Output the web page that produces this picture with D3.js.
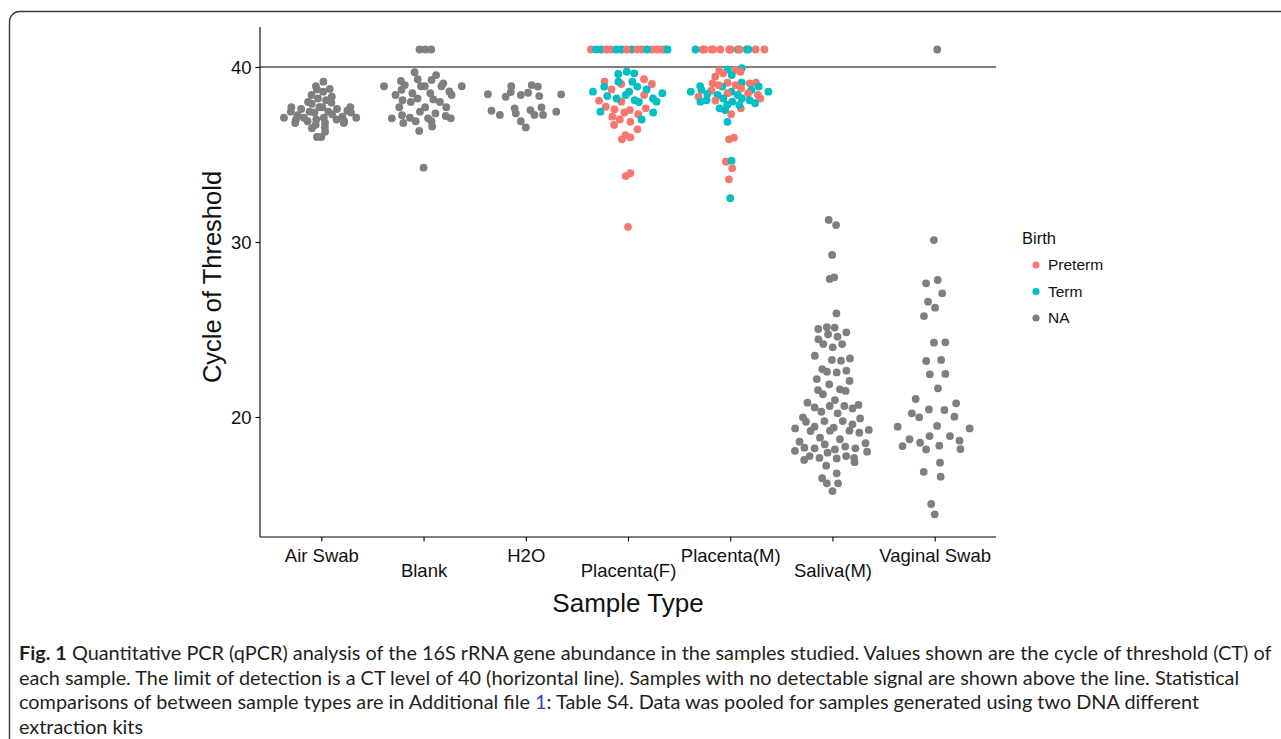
<!DOCTYPE html>
<html>
<head>
<meta charset="utf-8">
<script src="https://cdn.jsdelivr.net/npm/d3@7"></script>
<style>
  body { margin: 0; background: #fff; }
  svg { display: block; }
</style>
</head>
<body>
<div id="mainDiv"></div>
<script>
'use strict';

// categorias e legenda
var sampleTypes = ['Air Swab', 'Blank', 'H2O', 'Placenta(F)', 'Placenta(M)', 'Saliva(M)', 'Vaginal Swab'];
var birthKeys = ['Preterm', 'Term', 'NA'];
var birthColors = ['#F8766D', '#00BFC4', '#7F7F7F'];
var yTicks = [20, 30, 40];
var detectLimit = 40;   // linha horizontal
var noSignal = 41;      // valor usado para amostras sem sinal

// valores de CT (NA = sem informação de nascimento)
var airSwab = [39.16, 38.91, 38.75, 38.72, 38.59, 38.4, 38.3, 38.2, 38.1, 38.0, 37.96, 37.9, 37.7, 37.7, 37.7,
  37.7, 37.6, 37.6, 37.5, 37.45, 37.45, 37.45, 37.4, 37.4, 37.3, 37.25, 37.16, 37.1, 37.1, 37.1, 37.1,
  37.0, 37.0, 37.0, 36.9, 36.9, 36.8, 36.8, 36.8, 36.7, 36.55, 36.5, 36.3, 36.0, 36.0];
var blank = [41, 41, 41, 39.7, 39.54, 39.3, 39.26, 39.2, 39.07, 38.97, 38.9, 38.9, 38.9, 38.9, 38.9, 38.7,
  38.6, 38.5, 38.5, 38.4, 38.4, 38.2, 38.15, 38.1, 38.0, 38.0, 37.7, 37.7, 37.7, 37.45, 37.35, 37.25,
  37.2, 37.1, 37.07, 37.07, 37.07, 36.9, 36.9, 36.8, 36.6, 36.35, 34.25];
var h2o = [38.97, 38.9, 38.88, 38.57, 38.53, 38.45, 38.44, 38.4, 38.34, 38.3, 37.69, 37.64, 37.54, 37.5,
  37.45, 37.35, 37.26, 37.26, 37.26, 36.9, 36.55];
var placentaFPreterm = [39.3, 39.16, 39.03, 39.03, 38.72, 38.4, 38.08, 38.02, 37.73, 37.64, 37.58, 37.54,
  37.4, 37.3, 37.16, 37.0, 36.87, 36.69, 36.44, 36.11, 35.98, 35.87, 33.93, 33.77, 30.87];
var placentaFTerm = [39.73, 39.64, 39.6, 39.16, 39.16, 38.88, 38.88, 38.72, 38.59, 38.59, 38.5, 38.4,
  38.34, 38.2, 38.2, 38.1, 38.02, 38.0, 37.45, 37.4, 37.0];
var placentaFNoSignal = ['Term', 'Preterm', 'Term', 'Preterm', 'Preterm', 'Term', 'Preterm', 'Term', 'Preterm',
  'Term', 'Preterm', 'Term', 'Preterm', 'Preterm', 'Term', 'Preterm', 'Term'];
var placentaMPreterm = [39.83, 39.79, 39.73, 39.64, 39.45, 39.1, 39.1, 39.07, 39.07, 38.97, 38.97, 38.78,
  38.65, 38.5, 38.5, 38.4, 38.3, 38.2, 38.08, 37.64, 37.3, 35.96, 35.87, 34.59, 34.21, 33.58];
var placentaMTerm = [39.93, 39.87, 39.54, 39.1, 38.91, 38.88, 38.88, 38.69, 38.69, 38.59, 38.59, 38.59,
  38.46, 38.4, 38.4, 38.2, 38.2, 38.1, 38.1, 38.02, 38.02, 37.93, 37.83, 37.83, 37.64, 37.54, 36.87,
  34.65, 32.5];
var placentaMNoSignal = ['Preterm', 'Term', 'Preterm', 'Preterm', 'Preterm', 'Term', 'Preterm', 'Preterm',
  'Term', 'Preterm', 'Preterm', 'Term', 'Preterm', 'Preterm'];
var saliva = [31.26, 30.97, 29.26, 27.98, 27.89, 25.92, 25.13, 25.11, 25.03, 24.84, 24.73, 24.59, 24.44,
  24.17, 24.17, 23.98, 23.5, 23.35, 23.26, 23.22, 22.74, 22.65, 22.59, 22.55, 22.17, 22.06, 21.87, 21.58,
  21.54, 21.49, 21.3, 20.97, 20.82, 20.69, 20.63, 20.63, 20.55, 20.49, 20.3, 20.21, 19.98, 19.92, 19.77,
  19.77, 19.73, 19.58, 19.45, 19.39, 19.35, 19.26, 19.22, 19.22, 19.2, 19.1, 18.82, 18.73, 18.59, 18.5,
  18.44, 18.31, 18.25, 18.21, 18.21, 18.15, 18.07, 18.02, 17.96, 17.77, 17.77, 17.67, 17.66, 17.63, 17.55,
  17.42, 17.22, 16.78, 16.5, 16.21, 16.21, 15.77];
var vaginalSwab = [41, 30.11, 27.83, 27.64, 27.07, 26.59, 26.25, 25.77, 24.27, 24.25, 23.26, 23.2, 22.46,
  22.44, 21.64, 21.03, 20.78, 20.43, 20.4, 20.21, 20.02, 19.98, 19.49, 19.45, 19.35, 18.91, 18.91, 18.73,
  18.65, 18.53, 18.36, 18.34, 18.17, 18.15, 17.39, 16.87, 16.59, 15.03, 14.44];

// texto da legenda da figura
var captionLines = [
  [['Fig. 1', true], [' Quantitative PCR (qPCR) analysis of the 16S rRNA gene abundance in the samples studied. Values shown are the cycle of threshold (CT) of', false]],
  [['each sample. The limit of detection is a CT level of 40 (horizontal line). Samples with no detectable signal are shown above the line. Statistical', false]],
  [['comparisons of between sample types are in Additional file ', false], ['1', 'link'], [': Table S4. Data was pooled for samples generated using two DNA different', false]],
  [['extraction kits', false]]
];

var chart = {};
chart.W = 1281;
chart.H = 739;
chart.panel = {left: 260, right: 996, top: 27, bottom: 537};
chart.yDomain = [13.143, 42.286];
chart.dotR = 3.9;
chart.qWidth = 0.4;       // largura máxima do quasirandom (fração da categoria)
chart.bwAdjust = 0.5;     // ajuste da banda da densidade
chart.font = '"Liberation Sans", Arial, Helvetica, sans-serif';

chart.color = d3.scaleOrdinal().domain(birthKeys).range(birthColors);

chart.buildPoints = function()
{
  var pts = [];
  function addNA(type, arr) { arr.forEach(function(v){ pts.push({type: type, birth: 'NA', ct: v}); }); }
  function addMixed(type, pre, term, nd)
  {
    var n = Math.max(pre.length, term.length);
    for (var i = 0; i < n; i++)
    {
      if (i < pre.length) pts.push({type: type, birth: 'Preterm', ct: pre[i]});
      if (i < term.length) pts.push({type: type, birth: 'Term', ct: term[i]});
    }
    nd.forEach(function(b){ pts.push({type: type, birth: b, ct: noSignal}); });
  }
  addNA('Air Swab', airSwab);
  addNA('Blank', blank);
  addNA('H2O', h2o);
  addMixed('Placenta(F)', placentaFPreterm, placentaFTerm, placentaFNoSignal);
  addMixed('Placenta(M)', placentaMPreterm, placentaMTerm, placentaMNoSignal);
  addNA('Saliva(M)', saliva);
  addNA('Vaginal Swab', vaginalSwab);
  return pts;
}

// sequência de van der Corput (base 2)
chart.vdc = function(i)
{
  var q = 0, bk = 0.5;
  while (i > 0) { q += (i % 2) * bk; i = Math.floor(i / 2); bk /= 2; }
  return q;
}

// deslocamento "quasirandom" (como ggbeeswarm): largura proporcional à densidade
chart.quasirandom = function(group)
{
  var ys = group.map(function(p){ return p.ct; });
  var n = ys.length;
  var sorted = ys.slice().sort(d3.ascending);
  var sd = d3.deviation(ys) || 0;
  var iqr = d3.quantileSorted(sorted, 0.75) - d3.quantileSorted(sorted, 0.25);
  var lo = Math.min(sd, iqr / 1.34) || sd || 1;
  var bw = 0.9 * lo * Math.pow(n, -0.2) * chart.bwAdjust;

  function dens(v)
  {
    var s = 0;
    for (var k = 0; k < n; k++) { var z = (v - ys[k]) / bw; s += Math.exp(-0.5 * z * z); }
    return s;
  }
  var g0 = sorted[0] - 3 * bw, g1 = sorted[n - 1] + 3 * bw;
  var maxD = 0;
  for (var g = 0; g < 512; g++) maxD = Math.max(maxD, dens(g0 + (g1 - g0) * g / 511));

  // rank com empates pela ordem de aparição
  var idx = d3.range(n).sort(function(a, b){ return (ys[a] - ys[b]) || (a - b); });
  idx.forEach(function(i, r)
  {
    var w = Math.min(1, dens(ys[i]) / maxD);
    group[i].off = (chart.vdc(r + 1) - 0.5) * 2 * w * chart.qWidth;
  });
}

chart.run = function()
{
  var P = chart.panel;
  var svg = d3.select('#mainDiv').append('svg')
    .attr('width', chart.W)
    .attr('height', chart.H);

  svg.append('rect').attr('width', chart.W).attr('height', chart.H).attr('fill', '#fff');

  // moldura arredondada
  svg.append('rect')
    .attr('x', 9.5).attr('y', 11.5)
    .attr('width', 1320).attr('height', 780)
    .attr('rx', 10).attr('ry', 10)
    .attr('fill', 'none')
    .attr('stroke', '#3a3a3a')
    .attr('stroke-width', 1.4);

  var x = d3.scalePoint().domain(sampleTypes).range([P.left, P.right]).padding(0.6);
  var y = d3.scaleLinear().domain(chart.yDomain).range([P.bottom, P.top]);

  var pts = chart.buildPoints();
  sampleTypes.forEach(function(t)
  {
    chart.quasirandom(pts.filter(function(p){ return p.type === t; }));
  });

  // linha do limite de detecção
  svg.append('line')
    .attr('x1', P.left).attr('x2', P.right)
    .attr('y1', y(detectLimit)).attr('y2', y(detectLimit))
    .attr('stroke', '#000').attr('stroke-width', 1.1);

  svg.append('g').selectAll('circle')
    .data(pts)
    .enter()
    .append('circle')
    .attr('cx', function(d){ return x(d.type) + d.off * x.step(); })
    .attr('cy', function(d){ return y(d.ct); })
    .attr('r', chart.dotR)
    .attr('fill', function(d){ return chart.color(d.birth); });

  // eixos
  var yAxis = svg.append('g')
    .attr('transform', 'translate(' + P.left + ',0)')
    .call(d3.axisLeft(y).tickValues(yTicks).tickSize(4.5).tickPadding(4).tickSizeOuter(0));
  var xAxis = svg.append('g')
    .attr('transform', 'translate(0,' + P.bottom + ')')
    .call(d3.axisBottom(x).tickSize(4.5).tickPadding(4).tickSizeOuter(0));

  [xAxis, yAxis].forEach(function(ax)
  {
    ax.select('.domain').attr('stroke', '#000').attr('stroke-width', 1.1);
    ax.selectAll('.tick line').attr('stroke', '#000').attr('stroke-width', 1.1);
    ax.selectAll('text').attr('fill', '#111').style('font-family', chart.font).style('font-size', '18.5px');
  });
  // o eixo do ggplot vai até o topo do painel
  yAxis.select('.domain').attr('d', 'M0,' + P.top + 'V' + P.bottom);
  xAxis.select('.domain').attr('d', 'M' + P.left + ',0H' + P.right);
  yAxis.selectAll('text').attr('dy', '0.35em');
  xAxis.selectAll('.tick text')
    .attr('dy', null)
    .attr('y', function(d, i){ return i % 2 === 0 ? 25 : 40; });

  // títulos dos eixos
  svg.append('text')
    .attr('x', 628)
    .attr('y', 612)
    .attr('text-anchor', 'middle')
    .style('font-family', chart.font).style('font-size', '26px').attr('fill', '#111')
    .text('Sample Type');
  svg.append('text')
    .attr('transform', 'translate(221,277) rotate(-90)')
    .attr('text-anchor', 'middle')
    .style('font-family', chart.font).style('font-size', '25.5px').attr('fill', '#111')
    .text('Cycle of Threshold');

  // legenda
  var leg = svg.append('g').attr('transform', 'translate(1022,0)');
  leg.append('text')
    .attr('x', 0).attr('y', 244)
    .style('font-family', chart.font).style('font-size', '16.5px').attr('fill', '#111')
    .text('Birth');
  var items = leg.selectAll('g.item')
    .data(birthKeys)
    .enter()
    .append('g')
    .attr('class', 'item')
    .attr('transform', function(d, i){ return 'translate(0,' + (265 + i * 26.5) + ')'; });
  items.append('circle')
    .attr('cx', 14).attr('cy', 0).attr('r', 3.6)
    .attr('fill', function(d){ return chart.color(d); });
  items.append('text')
    .attr('x', 26).attr('y', 0).attr('dy', '0.35em')
    .style('font-family', chart.font).style('font-size', '15.5px').attr('fill', '#111')
    .text(function(d){ return d; });

  // legenda da figura
  var cap = svg.append('g');
  var capFont = 16;
  var lines = cap.selectAll('text')
    .data(captionLines)
    .enter()
    .append('text')
    .attr('x', 19)
    .attr('y', function(d, i){ return 660 + i * 24.5; })
    .style('font-family', 'Lato, "Open Sans", sans-serif')
    .style('font-size', capFont + 'px')
    .attr('fill', '#231f20');
  lines.selectAll('tspan')
    .data(function(d){ return d; })
    .enter()
    .append('tspan')
    .style('font-weight', function(d){ return d[1] === true ? 'bold' : 'normal'; })
    .attr('fill', function(d){ return d[1] === 'link' ? '#2b3fd4' : null; })
    .text(function(d){ return d[0]; });
  // ajusta o tamanho para a primeira linha ocupar a largura da figura
  var w0 = lines.node().getComputedTextLength();
  var fs = capFont * 1253 / w0;
  lines.style('font-size', fs + 'px');
}

window.onload = chart.run;
</script>
</body>
</html>
